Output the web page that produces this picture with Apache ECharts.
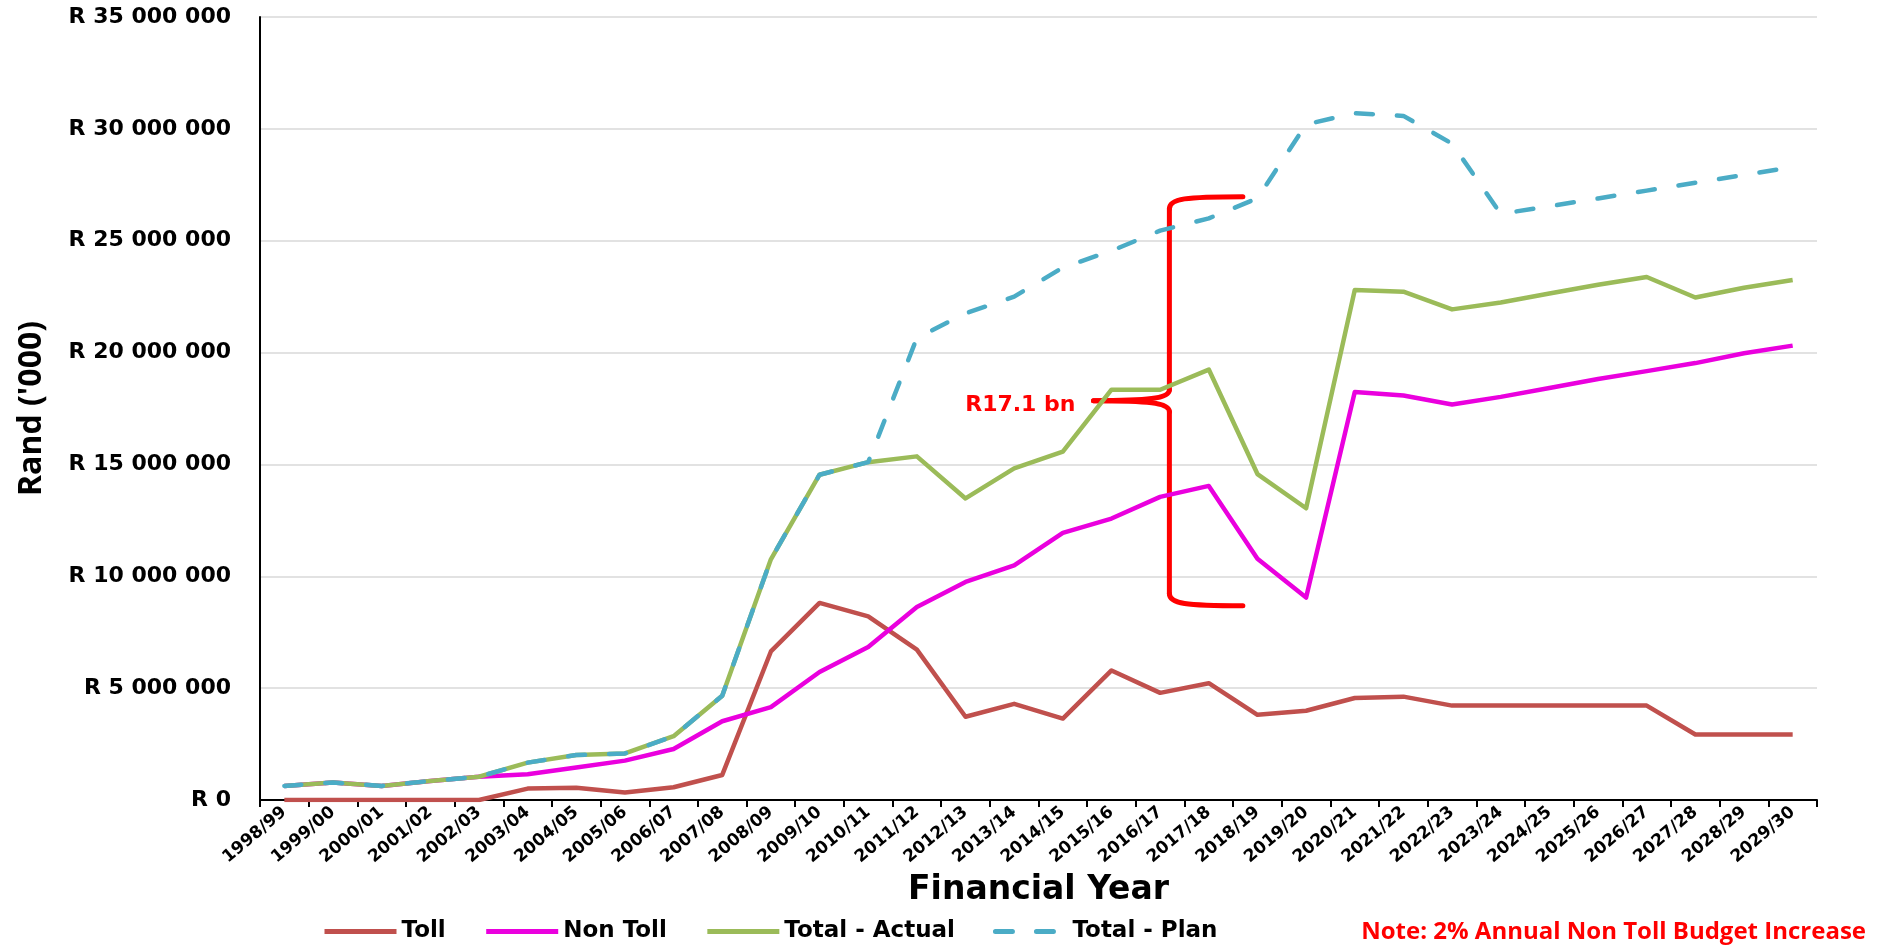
<!DOCTYPE html>
<html>
<head>
<meta charset="utf-8">
<title>Toll / Non Toll budget</title>
<script src="https://cdn.jsdelivr.net/npm/echarts@6/dist/echarts.min.js"></script>
<style>
  html, body { margin: 0; padding: 0; background: #fff; }
  #chart { width: 1881px; height: 945px; }
</style>
</head>
<body>
<div id="chart"></div>
<script>
// values in Rand ('000)
const years = [
  "1998/99", "1999/00", "2000/01", "2001/02", "2002/03", "2003/04", "2004/05", "2005/06",
  "2006/07", "2007/08", "2008/09", "2009/10", "2010/11", "2011/12", "2012/13", "2013/14",
  "2014/15", "2015/16", "2016/17", "2017/18", "2018/19", "2019/20", "2020/21", "2021/22",
  "2022/23", "2023/24", "2024/25", "2025/26", "2026/27", "2027/28", "2028/29", "2029/30",
];
const toll = [
  0, 0, 0, 0, 0, 510000, 550000, 340000,
  570000, 1120000, 6640000, 8810000, 8210000, 6720000, 3720000, 4300000,
  3640000, 5790000, 4790000, 5220000, 3810000, 3990000, 4560000, 4620000,
  4220000, 4220000, 4220000, 4220000, 4220000, 2930000, 2930000, 2930000,
];
const nonToll = [
  630000, 780000, 630000, 850000, 1040000, 1150000, 1450000, 1760000,
  2280000, 3520000, 4150000, 5720000, 6840000, 8630000, 9750000, 10490000,
  11940000, 12580000, 13550000, 14040000, 10780000, 9050000, 18240000, 18080000,
  17680000, 18020000, 18420000, 18820000, 19170000, 19530000, 19970000, 20310000,
];
const totalActual = [
  630000, 780000, 630000, 850000, 1040000, 1670000, 2010000, 2080000,
  2850000, 4660000, 10760000, 14540000, 15100000, 15360000, 13480000, 14820000,
  15570000, 18340000, 18340000, 19240000, 14570000, 13040000, 22800000, 22720000,
  21930000, 22240000, 22640000, 23030000, 23380000, 22460000, 22900000, 23240000,
];
const totalPlan = [
  630000, 780000, 630000, 850000, 1040000, 1670000, 2010000, 2080000,
  2850000, 4660000, 10760000, 14540000, 15100000, 20650000, 21750000, 22500000,
  23800000, 24550000, 25450000, 26000000, 26900000, 30200000, 30700000, 30580000,
  29340000, 26200000, 26540000, 26890000, 27240000, 27590000, 27940000, 28290000,
];

// brace annotation: category positions (tip, spine, ends) and values (top, middle, bottom)
const braceCats = [16.63, 18.19, 19.7];
const braceVals = [26970000, 17850000, 8680000];
const braceLabel = "R17.1 bn";
const noteText = "Note: 2% Annual Non Toll Budget Increase";

const wide = "'DejaVu Sans', Verdana, sans-serif";
const plain = "'Open Sans', 'Liberation Sans', sans-serif";

function rand(v) {
  if (v === 0) return "R 0";
  return "R " + String(v).replace(/\B(?=(\d{3})+(?!\d))/g, " ");
}

function lineSeries(name, data, color, dashed) {
  return {
    name: name,
    type: "line",
    data: data,
    symbol: "none",
    smooth: false,
    itemStyle: { color: color },
    lineStyle: {
      color: color,
      width: 4.5,
      type: dashed ? [17, 24] : "solid",
      cap: dashed ? "round" : "butt",
      join: "round",
    },
  };
}

const chart = echarts.init(document.getElementById("chart"));

chart.setOption({
  animation: false,
  backgroundColor: "#fff",
  textStyle: { fontFamily: wide },
  grid: {
    left: 260,
    right: 64,
    top: 17,
    bottom: 145,
    containLabel: false,
    outerBoundsMode: "none",
  },
  legend: {
    data: ["Toll", "Non Toll", "Total - Actual", "Total - Plan"],
    left: 317,
    top: 915,
    itemWidth: 72,
    itemHeight: 14,
    itemGap: 38,
    itemStyle: { opacity: 0, borderWidth: 0 },
    lineStyle: { width: 5 },
    textStyle: { fontFamily: wide, fontSize: 23, fontWeight: "bold", color: "#000" },
  },
  xAxis: {
    type: "category",
    data: years,
    boundaryGap: true,
    name: "Financial Year",
    nameLocation: "middle",
    nameGap: 74,
    nameTextStyle: { fontFamily: wide, fontSize: 33, fontWeight: "bold", color: "#000" },
    axisLine: { show: true, lineStyle: { color: "#000", width: 2 } },
    axisTick: { show: true, alignWithLabel: false, length: 7, lineStyle: { color: "#000", width: 2 } },
    axisLabel: {
      interval: 0,
      rotate: 40,
      margin: 10,
      fontFamily: wide,
      fontSize: 17,
      fontWeight: "bold",
      color: "#000",
    },
    splitLine: { show: false },
  },
  yAxis: {
    type: "value",
    min: 0,
    max: 35000000,
    interval: 5000000,
    name: "Rand ('000)",
    nameLocation: "middle",
    nameRotate: 90,
    nameGap: 212,
    nameTextStyle: { fontFamily: plain, fontSize: 32, fontWeight: "bold", color: "#000" },
    axisLine: { show: true, lineStyle: { color: "#000", width: 2 } },
    axisTick: { show: false },
    axisLabel: {
      margin: 29,
      fontFamily: wide,
      fontSize: 22,
      fontWeight: "bold",
      color: "#000",
      formatter: rand,
    },
    splitLine: { show: true, lineStyle: { color: "#D9D9D9", width: 1.5 } },
  },
  series: [
    lineSeries("Toll", toll, "#C0504D", false),
    lineSeries("Non Toll", nonToll, "#EA00DE", false),
    lineSeries("Total - Actual", totalActual, "#9BBB59", false),
    lineSeries("Total - Plan", totalPlan, "#4BACC6", true),
  ],
});

// the red brace is tied to the axes, so build it from pixel positions of the data
function drawBrace() {
  const p0 = chart.convertToPixel({ gridIndex: 0 }, [0, 0]);
  const p1 = chart.convertToPixel({ gridIndex: 0 }, [1, 0]);
  const step = p1[0] - p0[0];
  const px = (i) => p0[0] + i * step;
  const py = (v) => chart.convertToPixel({ gridIndex: 0 }, [0, v])[1];

  const xl = px(braceCats[0]), xv = px(braceCats[1]), xr = px(braceCats[2]);
  const yt = py(braceVals[0]), ym = py(braceVals[1]), yb = py(braceVals[2]);
  const red = { stroke: "#FF0000", lineWidth: 5, fill: null, lineCap: "round" };

  const curve = (x1, y1, cpx1, cpy1, cpx2, cpy2, x2, y2) => ({
    type: "bezierCurve",
    shape: { x1, y1, cpx1, cpy1, cpx2, cpy2, x2, y2 },
    style: red,
  });
  const seg = (x1, y1, x2, y2) => ({
    type: "line",
    shape: { x1, y1, x2, y2 },
    style: red,
  });

  chart.setOption({
    graphic: [
      {
        type: "group",
        z: 10,
        children: [
          curve(xr, yt, xv + 16, yt, xv, yt + 2, xv, yt + 12),
          seg(xv, yt + 12, xv, ym - 11),
          curve(xv, ym - 11, xv, ym - 2, xv - 22, ym, xl, ym),
          curve(xl, ym, xv - 22, ym, xv, ym + 2, xv, ym + 11),
          seg(xv, ym + 11, xv, yb - 12),
          curve(xv, yb - 12, xv, yb - 2, xv + 16, yb, xr, yb),
        ],
      },
      {
        type: "text",
        x: xl - 18,
        y: ym + 5,
        z: 10,
        style: {
          text: braceLabel,
          fill: "#FF0000",
          font: "bold 22px " + wide,
          textAlign: "right",
          textVerticalAlign: "middle",
        },
      },
      {
        type: "text",
        right: 15,
        top: 920,
        z: 10,
        style: {
          text: noteText,
          fill: "#FF0000",
          font: "bold 24px " + plain,
        },
      },
    ],
  });
}

drawBrace();
</script>
</body>
</html>
